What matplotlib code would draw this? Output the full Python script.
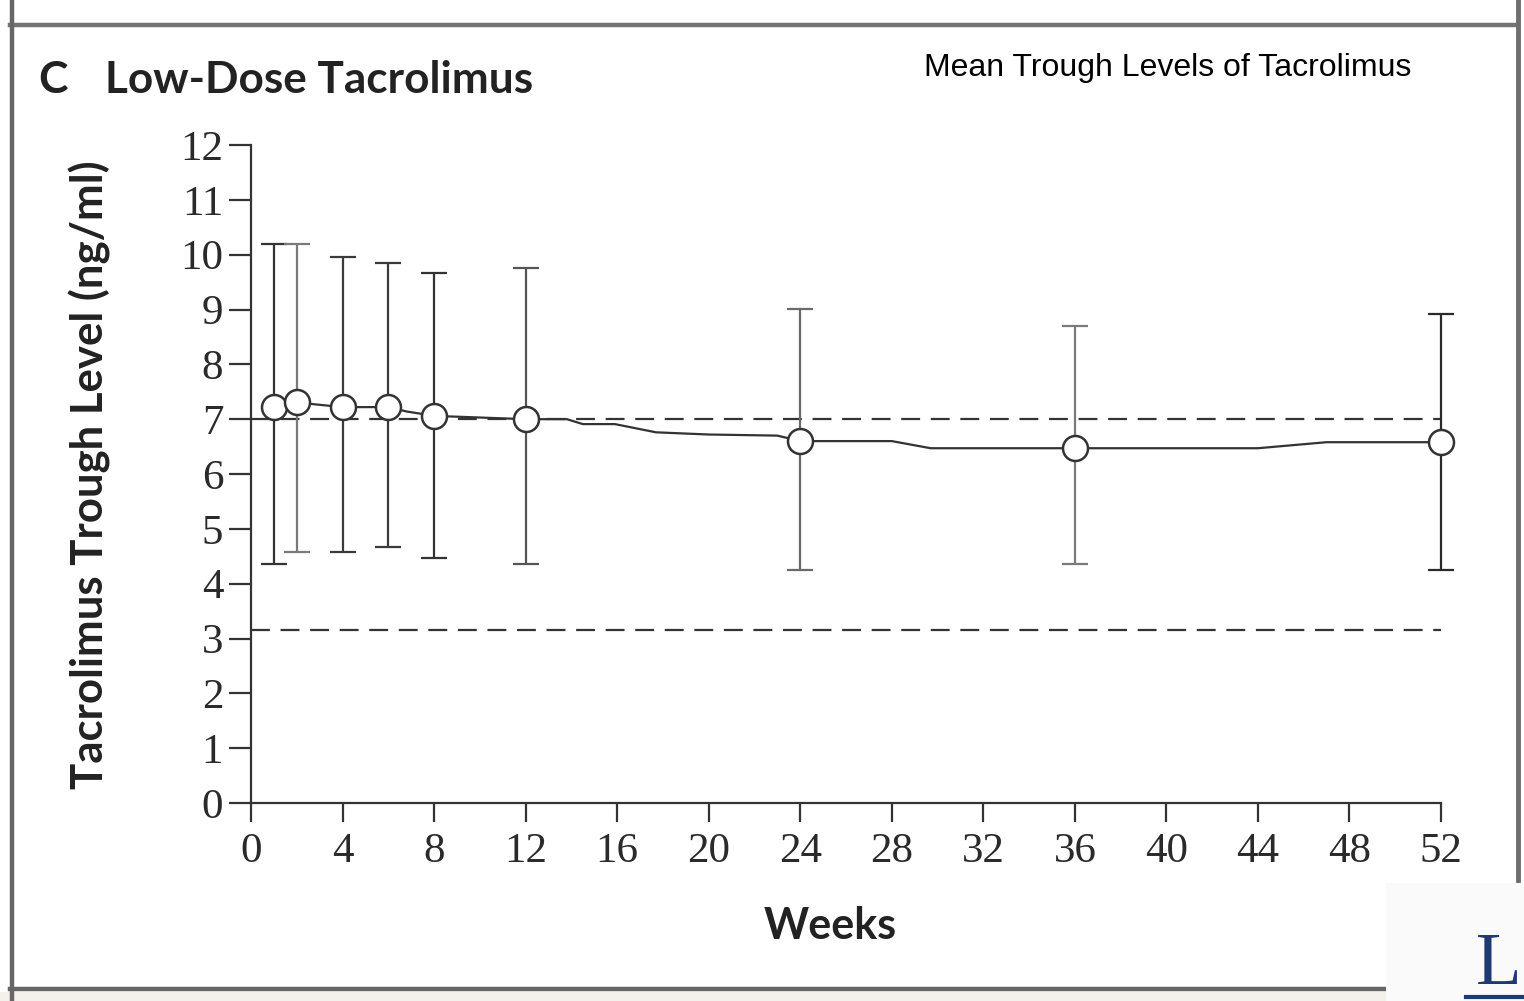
import matplotlib
matplotlib.use("Agg")
import matplotlib.pyplot as plt
from matplotlib.lines import Line2D
from matplotlib.patches import Rectangle
import numpy as np

# visit weeks and trough levels (ng/ml)
weeks = [1, 2, 4, 6, 8, 12, 24, 36, 52]
mean_level = [7.22, 7.31, 7.22, 7.22, 7.06, 7.0, 6.6, 6.47, 6.58]
upper_level = [10.2, 10.2, 9.96, 9.85, 9.67, 9.76, 9.01, 8.70, 8.92]
lower_level = [4.36, 4.58, 4.58, 4.67, 4.47, 4.36, 4.25, 4.36, 4.25]
bar_colors = ["#333333", "#7a7a7a", "#3a3a3a", "#3a3a3a", "#333333",
              "#555555", "#6a6a6a", "#7a7a7a", "#2a2a2a"]

# connecting trend line
trend_weeks = [1, 2, 2.8, 4, 6, 6.8, 8, 12, 13.8, 14.5, 15.9, 17.7, 20, 23, 24,
               28, 29.7, 36, 44, 47, 52]
trend_level = [7.22, 7.31, 7.27, 7.22, 7.22, 7.14, 7.06, 7.0, 7.0, 6.91, 6.91,
               6.76, 6.72, 6.70, 6.6, 6.6, 6.47, 6.47, 6.47, 6.58, 6.58]

# target range
target_high = 7.0
target_low = 3.15

x_ticks = list(range(0, 53, 4))
y_ticks = list(range(0, 13))

W, H = 1524, 1001
fig = plt.figure(figsize=(W / 100, H / 100), dpi=100)
fig.patch.set_facecolor("white")

# page frame
fig.patches.append(Rectangle((0, 0), 1, 9 / H, transform=fig.transFigure,
                             facecolor="#f4f1ec", edgecolor="none", zorder=0))
fig.lines.append(Line2D([10 / W, 1515 / W], [1 - 25 / H, 1 - 25 / H],
                        transform=fig.transFigure, color="#737373", lw=3.2))
fig.lines.append(Line2D([11.5 / W, 11.5 / W], [0, 1], transform=fig.transFigure,
                        color="#666666", lw=3.2))
fig.lines.append(Line2D([1518 / W, 1518 / W], [1 - 880 / H, 1],
                        transform=fig.transFigure, color="#6e6e6e", lw=3.5))
fig.lines.append(Line2D([10 / W, 1388 / W], [1 - 988.5 / H, 1 - 988.5 / H],
                        transform=fig.transFigure, color="#666666", lw=3.2))
fig.patches.append(Rectangle((1386 / W, 0), 138 / W, 118 / H,
                             transform=fig.transFigure, facecolor="#fafafa",
                             edgecolor="none", zorder=3))
fig.text(1476 / W, 1 - 984 / H, "L", fontsize=54, family="Liberation Serif",
         color="#1f3a73", ha="left", va="baseline", zorder=4)
fig.lines.append(Line2D([1466 / W, 1 + 0.01], [1 - 997 / H, 1 - 997 / H],
                        transform=fig.transFigure, color="#1f3a73", lw=3, zorder=4))

fig.text(38 / W, 1 - 93 / H, "C", fontsize=32, family="Lato", weight="bold",
         color="#222222", ha="left", va="baseline")
fig.text(105 / W, 1 - 93 / H, "Low-Dose Tacrolimus", fontsize=31.8, family="Lato",
         weight="bold", color="#222222", ha="left", va="baseline")
fig.text(1168 / W, 1 - 68 / H, "Mean Trough Levels of Tacrolimus", fontsize=23,
         family="Liberation Sans", color="black", ha="center", va="center")

ax = fig.add_axes([251 / W, 1 - 803 / H, 1190 / W, 658 / H])
ax.set_xlim(0, 52)
ax.set_ylim(0, 12)
for side in ["top", "right"]:
    ax.spines[side].set_visible(False)
for side in ["left", "bottom"]:
    ax.spines[side].set_linewidth(1.6)
    ax.spines[side].set_color("#333333")

ax.axhline(target_high, xmin=0, xmax=1, color="#333333", lw=1.6,
           dashes=(8.5, 4.8), zorder=1)
ax.axhline(target_low, xmin=0, xmax=1, color="#333333", lw=1.6,
           dashes=(8.5, 4.8), zorder=1)

mean_arr = np.array(mean_level)
err = [mean_arr - np.array(lower_level), np.array(upper_level) - mean_arr]
for i in range(len(weeks)):
    ax.errorbar([weeks[i]], [mean_level[i]],
                yerr=[[err[0][i]], [err[1][i]]], fmt="none",
                ecolor=bar_colors[i], elinewidth=1.6, capsize=9.5,
                capthick=1.6, zorder=2, clip_on=False)

ax.plot(trend_weeks, trend_level, color="#333333", lw=1.6, zorder=3)
ax.plot(weeks, mean_level, "o", ms=18, mfc="white", mec="#333333", mew=1.8,
        zorder=4, clip_on=False)

ax.set_xticks(x_ticks)
ax.set_yticks(y_ticks)
ax.tick_params(axis="y", length=16, width=1.6, color="#333333", pad=4,
               labelsize=31, labelcolor="#2a2a2a")
ax.tick_params(axis="x", length=14, width=1.6, color="#333333", pad=7,
               labelsize=31, labelcolor="#2a2a2a")
for lbl in ax.get_xticklabels() + ax.get_yticklabels():
    lbl.set_family("Liberation Serif")

fig.text(830 / W, 1 - 926 / H, "Weeks", fontsize=31, family="Lato",
         weight="bold", color="#222222", ha="center", va="center")
fig.text(90 / W, 1 - 475 / H, "Tacrolimus Trough Level (ng/ml)", fontsize=31.5,
         family="Lato", weight="bold", color="#222222", rotation=90,
         ha="center", va="center")

fig.savefig("out.png", dpi=100)
